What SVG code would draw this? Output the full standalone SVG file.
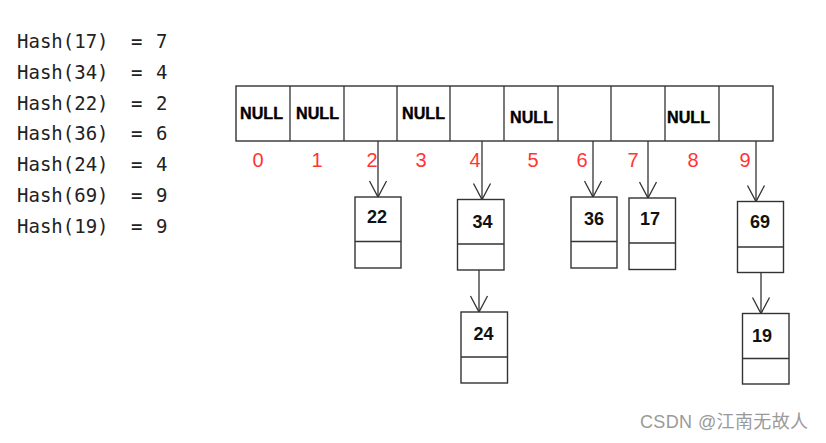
<svg xmlns="http://www.w3.org/2000/svg" width="826" height="443" viewBox="0 0 826 443">
<style>
.hash{font-family:"DejaVu Sans Mono",monospace;font-size:19px;fill:#222}
.null{font-family:"Liberation Sans",Arial,sans-serif;font-size:17px;font-weight:bold;fill:#000;stroke:#000;stroke-width:0.4}
.idx{font-family:"Liberation Sans",Arial,sans-serif;font-size:20px;fill:#ff3535;text-anchor:middle}
.box{fill:#fff;stroke:#333;stroke-width:1.4}
.val{font-family:"Liberation Sans",Arial,sans-serif;font-size:18px;font-weight:bold;fill:#111;text-anchor:middle}
.conn{stroke:#333;stroke-width:1.3;fill:none}
</style>
<defs>
<marker id="v" markerUnits="userSpaceOnUse" viewBox="-18 -10 20 20" refX="0" refY="0" markerWidth="20" markerHeight="20" orient="auto">
<path d="M-16,-8.5 L0,0 L-16,8.5" fill="none" stroke="#333" stroke-width="1.3"/>
</marker>
</defs>
<rect width="826" height="443" fill="#fff"/>
<g id="hash-list">
<text class="hash" x="17" y="48">Hash(17)<tspan x="131">=</tspan><tspan x="156">7</tspan></text>
<text class="hash" x="17" y="79">Hash(34)<tspan x="131">=</tspan><tspan x="156">4</tspan></text>
<text class="hash" x="17" y="110">Hash(22)<tspan x="131">=</tspan><tspan x="156">2</tspan></text>
<text class="hash" x="17" y="140">Hash(36)<tspan x="131">=</tspan><tspan x="156">6</tspan></text>
<text class="hash" x="17" y="171">Hash(24)<tspan x="131">=</tspan><tspan x="156">4</tspan></text>
<text class="hash" x="17" y="202">Hash(69)<tspan x="131">=</tspan><tspan x="156">9</tspan></text>
<text class="hash" x="17" y="233">Hash(19)<tspan x="131">=</tspan><tspan x="156">9</tspan></text>
</g>
<g id="array">
<rect class="box" x="236" y="86" width="537" height="55"/>
<path class="conn" d="M290,86V141M344,86V141M397,86V141M450,86V141M504,86V141M558,86V141M611,86V141M665,86V141M719,86V141" stroke-width="1.4"/>
<text class="null" x="240" y="119" textLength="43" lengthAdjust="spacingAndGlyphs">NULL</text>
<text class="null" x="296" y="119" textLength="43" lengthAdjust="spacingAndGlyphs">NULL</text>
<text class="null" x="402" y="119" textLength="43" lengthAdjust="spacingAndGlyphs">NULL</text>
<text class="null" x="510" y="123" textLength="43" lengthAdjust="spacingAndGlyphs">NULL</text>
<text class="null" x="667" y="123" textLength="43" lengthAdjust="spacingAndGlyphs">NULL</text>
</g>
<g id="indices">
<text class="idx" x="258" y="167">0</text>
<text class="idx" x="317" y="167">1</text>
<text class="idx" x="372" y="167">2</text>
<text class="idx" x="421" y="167">3</text>
<text class="idx" x="475" y="167">4</text>
<text class="idx" x="533" y="167">5</text>
<text class="idx" x="582" y="167">6</text>
<text class="idx" x="633" y="167">7</text>
<text class="idx" x="693" y="167">8</text>
<text class="idx" x="745" y="167">9</text>
</g>
<g id="connectors">
<line class="conn" x1="378" y1="141" x2="378" y2="197" marker-end="url(#v)"/>
<line class="conn" x1="482" y1="141" x2="482" y2="199.5" marker-end="url(#v)"/>
<line class="conn" x1="593" y1="141" x2="593" y2="197" marker-end="url(#v)"/>
<line class="conn" x1="648" y1="141" x2="648" y2="198" marker-end="url(#v)"/>
<line class="conn" x1="756" y1="141" x2="756" y2="201.5" marker-end="url(#v)"/>
<line class="conn" x1="479" y1="255" x2="479" y2="312" marker-end="url(#v)"/>
<line class="conn" x1="761" y1="257" x2="761" y2="313.5" marker-end="url(#v)"/>
</g>
<g id="node-22">
<rect class="box" x="355" y="197" width="46" height="71"/>
<line class="conn" x1="355" y1="241.5" x2="401" y2="241.5" stroke-width="1.4"/>
<text class="val" x="377" y="223">22</text>
</g>
<g id="node-34">
<rect class="box" x="457.5" y="199.5" width="46.5" height="70.5"/>
<line class="conn" x1="457.5" y1="244" x2="504" y2="244" stroke-width="1.4"/>
<text class="val" x="482.5" y="228">34</text>
</g>
<g id="node-24">
<rect class="box" x="461" y="312" width="46.5" height="71"/>
<line class="conn" x1="461" y1="357" x2="507.5" y2="357" stroke-width="1.4"/>
<text class="val" x="483.5" y="340">24</text>
</g>
<g id="node-36">
<rect class="box" x="571" y="197" width="46" height="71"/>
<line class="conn" x1="571" y1="241.5" x2="617" y2="241.5" stroke-width="1.4"/>
<text class="val" x="594" y="225">36</text>
</g>
<g id="node-17">
<rect class="box" x="629" y="198" width="46.5" height="71.5"/>
<line class="conn" x1="629" y1="243" x2="675.5" y2="243" stroke-width="1.4"/>
<text class="val" x="650" y="225">17</text>
</g>
<g id="node-69">
<rect class="box" x="737.5" y="201.5" width="46" height="71"/>
<line class="conn" x1="737.5" y1="247" x2="783.5" y2="247" stroke-width="1.4"/>
<text class="val" x="760" y="228">69</text>
</g>
<g id="node-19">
<rect class="box" x="742.5" y="313.5" width="46.5" height="70.5"/>
<line class="conn" x1="742.5" y1="358.5" x2="789" y2="358.5" stroke-width="1.4"/>
<text class="val" x="762" y="341.5">19</text>
</g>
<text x="640" y="428" font-family="'Liberation Sans','Noto Sans CJK SC',sans-serif" font-size="18" fill="#9a9a9a" textLength="168" lengthAdjust="spacing">CSDN @江南无故人</text>
</svg>
